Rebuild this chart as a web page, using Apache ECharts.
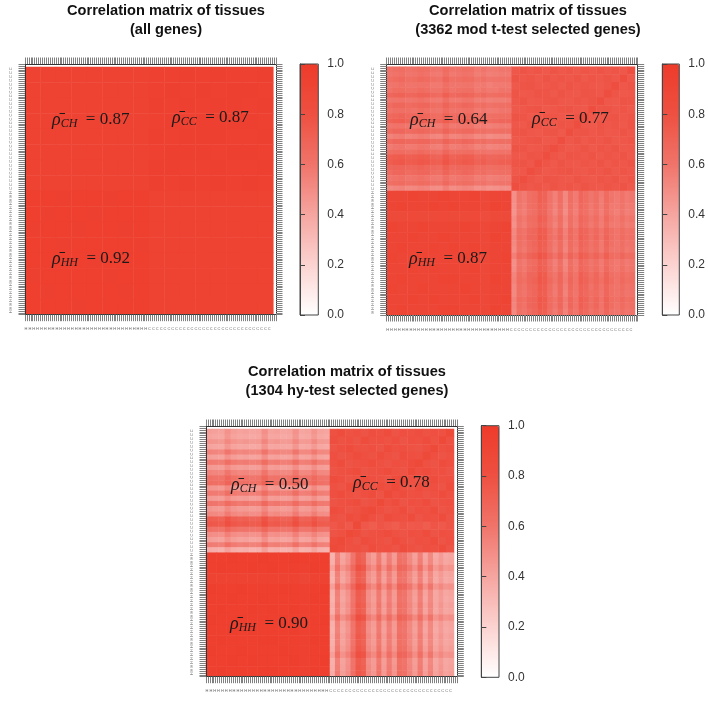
<!DOCTYPE html>
<html><head><meta charset="utf-8">
<style>html,body{margin:0;padding:0;background:#fff}#c{width:708px;height:707px}</style>
<script src="https://cdn.jsdelivr.net/npm/echarts@6/dist/echarts.min.js"></script></head>
<body><div id="c"></div>
<script>
// Correlations in hundredths, estimated by eye from cell colour. Rows top to bottom, columns left to right.
const allCH=[
[92,93,92,93,93,92,93,92],[93,92,93,92,92,93,92,93],[92,92,93,93,92,92,93,92],[93,93,92,92,93,93,92,92],
[92,93,93,92,92,93,93,93],[93,92,92,93,93,92,92,92],[92,93,92,92,93,93,92,93],[93,92,93,93,92,92,93,92]];
const allCC=[
[94,94,95,94,95,94,94,95],[94,95,94,95,94,95,95,94],[95,94,95,94,95,95,94,95],[94,95,94,95,95,95,95,94],
[95,94,95,95,95,94,94,95],[94,95,95,95,94,95,95,94],[95,95,94,94,95,94,94,95],[95,94,95,94,95,94,95,94]];
const allHH=[
[96,96,95,96,96,95,96,96],[96,95,96,96,95,96,96,96],[95,96,96,95,96,96,95,96],[96,96,95,96,96,96,96,95],
[96,96,96,96,95,96,96,96],[95,96,96,96,96,95,96,96],[96,95,96,96,96,96,95,96],[96,96,96,95,96,96,96,96]];

const modCH=[
[61,63,64,61,62,64,63,60,59,65,60,61,63,62,58,60,57,58,59,59],
[59,61,62,59,60,62,61,58,57,63,58,59,61,60,56,58,55,56,57,57],
[63,65,66,63,64,66,65,62,61,67,62,63,65,64,60,62,59,60,61,61],
[59,60,62,60,60,61,61,58,58,63,59,59,60,60,57,58,55,57,57,58],
[61,64,64,62,62,65,63,60,60,65,60,62,63,63,58,60,58,58,60,59],
[67,69,70,67,68,70,69,66,65,71,66,67,69,68,64,66,63,64,65,65],
[59,60,61,59,60,62,60,58,57,63,58,58,60,60,56,57,55,56,56,57],
[65,67,68,65,66,68,67,64,63,69,64,65,67,66,62,64,61,62,63,63],
[61,63,63,62,61,64,62,60,59,65,60,61,62,62,58,59,57,58,59,59],
[66,68,69,66,67,69,68,65,64,70,65,66,68,67,63,65,62,63,64,64],
[69,71,72,69,70,72,71,68,67,73,68,69,71,70,66,68,65,66,67,67],
[59,61,61,59,60,61,60,58,57,63,58,59,60,60,56,57,55,56,57,57],
[65,67,67,65,66,68,66,64,63,69,64,65,66,66,62,63,61,62,63,63],
[54,56,57,54,55,57,56,53,52,58,53,54,56,55,51,53,50,51,52,52],
[65,67,68,66,66,68,67,64,63,69,65,65,67,66,62,64,61,62,63,63],
[57,59,60,57,58,60,59,56,55,61,56,57,59,58,54,56,53,54,55,55],
[63,65,65,63,64,66,64,62,61,67,62,63,64,64,60,61,59,60,61,61],
[71,73,74,71,72,74,73,70,69,75,70,71,73,72,68,70,67,68,69,69],
[73,75,76,73,74,76,75,72,71,77,72,73,75,74,70,72,69,70,71,71],
[67,69,69,67,68,70,68,66,65,71,66,67,68,68,64,65,63,64,65,65],
[65,67,68,65,66,68,67,64,63,69,64,65,67,66,62,64,61,62,63,63],
[59,61,62,59,60,62,60,58,57,63,58,59,61,60,56,58,55,56,57,57],
[62,64,65,62,63,65,64,61,60,66,61,62,64,63,59,61,58,59,60,60],
[51,53,54,51,52,54,53,50,49,55,50,51,53,52,48,50,47,48,49,49]];
const modCC=[
[76,78,76,77,75,78,76,77,75,77,76,78,76,77,76,82],
[78,76,77,75,78,76,77,76,78,75,77,76,78,76,82,76],
[75,77,78,76,76,77,75,78,76,77,76,75,77,82,76,78],
[77,75,76,78,77,75,78,76,75,78,77,76,82,77,75,76],
[76,78,75,76,77,78,76,75,77,76,78,82,76,75,78,77],
[75,76,77,78,75,76,77,78,76,75,82,77,78,76,77,75],
[78,77,75,76,78,77,76,75,78,82,76,75,77,78,76,77],
[76,75,78,77,76,75,78,77,82,76,75,78,76,77,75,78],
[77,78,76,75,77,78,75,82,77,78,76,77,75,76,78,76],
[75,76,77,78,75,76,82,76,78,75,77,76,78,75,76,77],
[78,77,75,76,78,82,77,75,76,78,75,77,76,78,75,76],
[76,75,78,77,82,77,75,78,77,76,78,75,77,76,78,75],
[77,78,76,82,77,75,78,76,75,77,76,78,75,77,76,78],
[75,76,82,78,75,76,77,78,76,75,77,76,78,75,77,76],
[78,82,77,75,78,77,76,75,78,76,75,77,76,78,75,77],
[82,78,76,77,75,78,76,77,75,78,76,75,77,76,78,75]];
const modHH=[
[90,90,91,90,90,91,90,90,91,88,90,90],[90,91,90,90,91,90,91,90,90,88,91,90],
[86,86,87,86,86,87,86,86,87,84,86,86],[91,90,90,91,90,90,90,91,90,88,90,91],
[90,90,91,90,90,91,90,90,90,88,91,90],[90,91,90,90,91,90,91,90,91,88,90,90],
[91,90,90,91,90,90,90,91,90,88,90,91],[90,90,91,90,91,90,90,90,91,88,90,90],
[90,91,90,90,90,91,91,90,90,88,91,90],[91,90,90,91,90,90,90,91,90,88,90,90],
[90,90,91,90,91,90,90,90,91,88,90,91],[90,91,90,90,90,91,91,90,90,88,91,90]];

const hyCH=[
[43,42,41,48,43,41,42,40,41,49,41,42,40,41,48,40,41,47,41,40],
[41,40,39,46,41,39,40,38,39,47,39,40,38,39,46,38,39,45,39,38],
[47,46,45,52,47,45,46,44,45,53,45,46,44,45,52,44,45,51,45,44],
[41,40,39,46,41,39,40,38,39,47,39,40,39,39,46,38,39,45,39,38],
[54,53,52,59,54,52,53,51,52,60,52,53,51,52,59,51,52,58,52,51],
[43,42,41,48,43,41,42,40,41,49,41,42,40,41,48,40,41,47,41,40],
[58,57,56,63,58,56,57,55,56,64,56,57,55,56,63,55,56,62,56,55],
[45,44,43,50,45,43,44,42,43,51,43,44,42,43,50,42,43,49,43,42],
[54,53,52,59,54,52,53,51,52,60,52,53,51,52,59,51,52,58,52,51],
[62,61,60,67,62,60,61,59,60,68,60,61,59,60,67,59,60,66,60,59],
[64,63,62,69,64,62,63,61,62,70,62,63,61,62,69,61,62,68,62,61],
[47,46,45,52,47,45,46,44,45,53,45,46,44,45,52,44,45,51,45,44],
[58,57,56,63,58,56,57,55,56,64,56,57,55,56,63,55,56,62,56,55],
[45,44,43,50,45,43,44,42,43,51,43,44,42,43,50,42,43,49,43,42],
[60,59,58,65,60,58,59,57,58,66,58,59,57,58,65,57,58,64,58,57],
[46,45,44,51,46,44,45,43,44,52,44,45,43,44,51,43,44,50,44,43],
[52,51,50,57,52,50,51,49,50,58,50,51,49,50,57,49,50,56,50,49],
[72,71,70,77,72,70,71,69,70,78,70,71,69,70,77,69,70,76,70,69],
[76,75,74,81,76,74,75,73,74,82,74,75,73,74,81,73,74,80,74,73],
[62,61,60,67,62,60,61,59,60,68,60,61,59,60,67,59,60,66,60,59],
[50,49,48,55,50,48,49,47,48,56,48,49,47,48,55,47,48,54,48,47],
[43,42,41,48,43,41,42,40,41,49,41,42,40,41,48,40,41,47,41,40],
[57,56,55,62,57,55,56,54,55,63,55,56,54,55,62,54,55,61,55,54],
[37,36,35,42,37,35,36,34,35,43,35,36,34,35,42,34,35,41,35,34]];
const hyCC=[
[80,83,79,81,78,82,80,83,78,81,80,82,79,81,80,86],
[82,79,81,78,83,80,81,79,82,78,81,80,83,79,86,80],
[78,81,83,80,79,81,78,83,80,81,79,78,81,86,80,82],
[81,78,80,83,81,79,83,80,78,83,81,80,86,81,78,80],
[80,83,78,80,81,83,80,78,81,80,83,86,80,78,83,81],
[78,80,81,83,78,80,81,83,80,78,86,81,83,80,81,78],
[83,81,78,80,83,81,80,78,83,86,80,78,81,83,80,81],
[80,78,83,81,80,78,83,81,86,80,78,83,80,81,78,83],
[81,83,80,78,81,83,78,86,81,83,80,81,78,80,83,80],
[78,80,81,83,78,80,86,80,83,78,81,80,83,78,80,81],
[83,81,78,80,83,86,81,78,80,83,78,81,80,83,78,80],
[80,78,83,81,86,81,78,83,81,80,83,78,81,80,83,78],
[76,79,75,86,76,73,77,75,73,77,75,76,73,77,75,78],
[78,80,86,83,78,80,81,83,80,78,81,80,83,78,81,80],
[83,86,81,78,83,81,80,78,83,80,78,81,80,83,78,81],
[86,83,80,81,78,83,80,81,78,83,80,78,81,80,83,78]];
const hyHH=[
[96,96,97,96,96,97,96,96,97,96,96,96],[96,97,96,96,97,96,97,96,96,94,97,96],
[92,92,93,92,92,93,92,92,93,90,92,92],[97,96,96,97,96,96,96,97,96,94,96,97],
[96,96,97,96,96,97,96,96,96,94,97,96],[96,97,96,96,97,96,97,96,97,94,96,96],
[97,96,96,97,96,96,96,97,96,94,96,97],[96,96,97,96,97,96,96,96,97,94,96,96],
[96,97,96,96,96,97,97,96,96,94,97,96],[97,96,96,97,96,96,96,97,96,94,96,96],
[96,96,97,96,97,96,96,96,97,94,96,97],[96,97,96,96,96,97,97,96,96,94,97,96]];

const hLabel='H', cLabel='C', perClass=64, blanks=2;
const ramp=['#ffffff','#fbd3d0','#f6a5a0','#f0746a','#ee5041','#ee3b2a'];

const panels=[
 {title:'Correlation matrix of tissues\n(all genes)',cx:161,ty:-4,CH:allCH,CC:allCC,HH:allHH,
  L:25,R:273.3,T:67,B:314.7,FR:276,FT:64,SX:149,SY:191,bar:[300,318.3,64,315],
  vals:['0.87','0.87','0.92'],pos:[[52,120],[172,118],[52,259]]},
 {title:'Correlation matrix of tissues\n(3362 mod t-test selected genes)',cx:523,ty:-4,CH:modCH,CC:modCC,HH:modHH,
  L:386.7,R:635,T:66.7,B:315,FR:637.7,FT:64,SX:511.7,SY:191,bar:[662.3,679.3,64,315],
  vals:['0.64','0.77','0.87'],pos:[[410,120],[532,119],[409,259]]},
 {title:'Correlation matrix of tissues\n(1304 hy-test selected genes)',cx:342,ty:357,CH:hyCH,CC:hyCC,HH:hyHH,
  L:206,R:454,T:429,B:676.7,FR:457.3,FT:426,SX:330,SY:552.7,bar:[481.3,499,425.7,677.3],
  vals:['0.50','0.78','0.90'],pos:[[231,485],[353,483],[230,624]]}
];
const bottomLabels=[...Array(perClass).fill(hLabel),...Array(perClass).fill(cLabel),...Array(blanks).fill('')];
const leftLabels=[...Array(blanks).fill(''),...Array(perClass).fill(cLabel),...Array(perClass).fill(hLabel)];
const mirror=m=>m[0].map((_,r)=>m.map((_,c)=>m[m.length-1-c][m[0].length-1-r]));

const grid=[],xAxis=[],yAxis=[],series=[],visualMap=[],title=[],elements=[];
const SANS='"Liberation Sans",Arial,sans-serif', SERIF='"Liberation Serif","DejaVu Serif",serif';
function addGrid(g,x,y){grid.push(g);const i=grid.length-1;
  xAxis.push(...x.map(a=>({gridIndex:i,...a})));yAxis.push(...y.map(a=>({gridIndex:i,...a})));
  return [xAxis.length-1,yAxis.length-1];}
const hidden={show:false};
function addHeat(m,l,t,r,b){
  const [xi,yi]=addGrid({left:l,top:t,width:r-l,height:b-t},
   [{type:'category',data:m[0].map((_,i)=>i),...hidden,boundaryGap:true}],
   [{type:'category',data:m.map((_,i)=>i),...hidden,inverse:true,boundaryGap:true}]);
  const data=[];m.forEach((row,r2)=>row.forEach((v,c)=>data.push([c,r2,v/100])));
  series.push({type:'heatmap',xAxisIndex:xi,yAxisIndex:yi,data,silent:true,progressive:0,itemStyle:{borderWidth:0},emphasis:{disabled:true}});
  return series.length-1;
}
panels.forEach(p=>{
  title.push({text:p.title,left:p.cx,top:p.ty,textAlign:'center',
    textStyle:{fontFamily:SANS,fontSize:14.6,fontWeight:'bold',lineHeight:19.5,color:'#111'}});
  const idx=[addHeat(p.CH,p.L,p.T,p.SX,p.SY),addHeat(p.CC,p.SX,p.T,p.R,p.SY),
             addHeat(p.HH,p.L,p.SY,p.SX,p.B),addHeat(mirror(p.CH),p.SX,p.SY,p.R,p.B)];
  const line={show:true,lineStyle:{color:'#333',width:1}};
  const tick={show:true,interval:0,length:6.5,inside:false,lineStyle:{color:'#808080',width:1}};
  addGrid({left:p.L,top:p.FT,width:p.FR-p.L,height:p.B-p.FT,z:5},
   [{type:'category',position:'bottom',data:bottomLabels,axisLine:line,axisTick:tick,z:5,
     axisLabel:{show:true,interval:1,fontSize:4,color:'#666',margin:12.5,fontFamily:SANS}},
    {type:'category',position:'top',data:bottomLabels,axisLine:line,axisTick:tick,z:5,axisLabel:{show:false}}],
   [{type:'category',position:'left',inverse:true,data:leftLabels,axisLine:line,axisTick:tick,z:5,
     axisLabel:{show:true,interval:1,fontSize:4,rotate:90,color:'#666',margin:12,fontFamily:SANS}},
    {type:'category',position:'right',inverse:true,data:leftLabels,axisLine:line,axisTick:tick,z:5,axisLabel:{show:false}}]);
  const [bl,br,bt,bb]=p.bar;
  visualMap.push({type:'continuous',min:0,max:1,seriesIndex:idx,left:bl,top:bt,itemWidth:br-bl,itemHeight:bb-bt,
    padding:0,calculable:false,showLabel:false,text:null,hoverLink:false,inRange:{color:ramp},textStyle:{fontSize:0}});
  addGrid({left:bl,top:bt,width:br-bl,height:bb-bt,show:true,borderColor:'#444',borderWidth:1,backgroundColor:'transparent',z:6},
   [{type:'value',min:0,max:1,...hidden}],
   [{type:'value',position:'right',min:0,max:1,interval:0.2,z:6,splitLine:{show:false},
     axisLine:{show:true,lineStyle:{color:'#444'}},axisTick:{show:true,length:5,lineStyle:{color:'#444'}},
     axisLabel:{show:true,margin:9,fontSize:12,color:'#333',fontFamily:SANS,formatter:v=>v.toFixed(1)}}]);
  ['CH','CC','HH'].forEach((k,i)=>{
    elements.push({type:'text',x:p.pos[i][0],y:p.pos[i][1],z:20,style:{
      text:`{p|ρ̄}{s|${k}}{r|  = ${p.vals[i]}}`,verticalAlign:'middle',
      rich:{p:{fontFamily:SERIF,fontSize:18,fontStyle:'italic',fill:'#1a1a1a'},
            r:{fontFamily:SERIF,fontSize:17,fill:'#1a1a1a'},
            s:{fontFamily:SERIF,fontSize:12,fontStyle:'italic',fill:'#1a1a1a',padding:[7,0,0,0]}}}});
  });
});
const chart=echarts.init(document.getElementById('c'),null,{renderer:'canvas'});
chart.setOption({animation:false,backgroundColor:'#fff',title,grid,xAxis,yAxis,series,visualMap,graphic:{elements},tooltip:{show:false}});
</script></body></html>
